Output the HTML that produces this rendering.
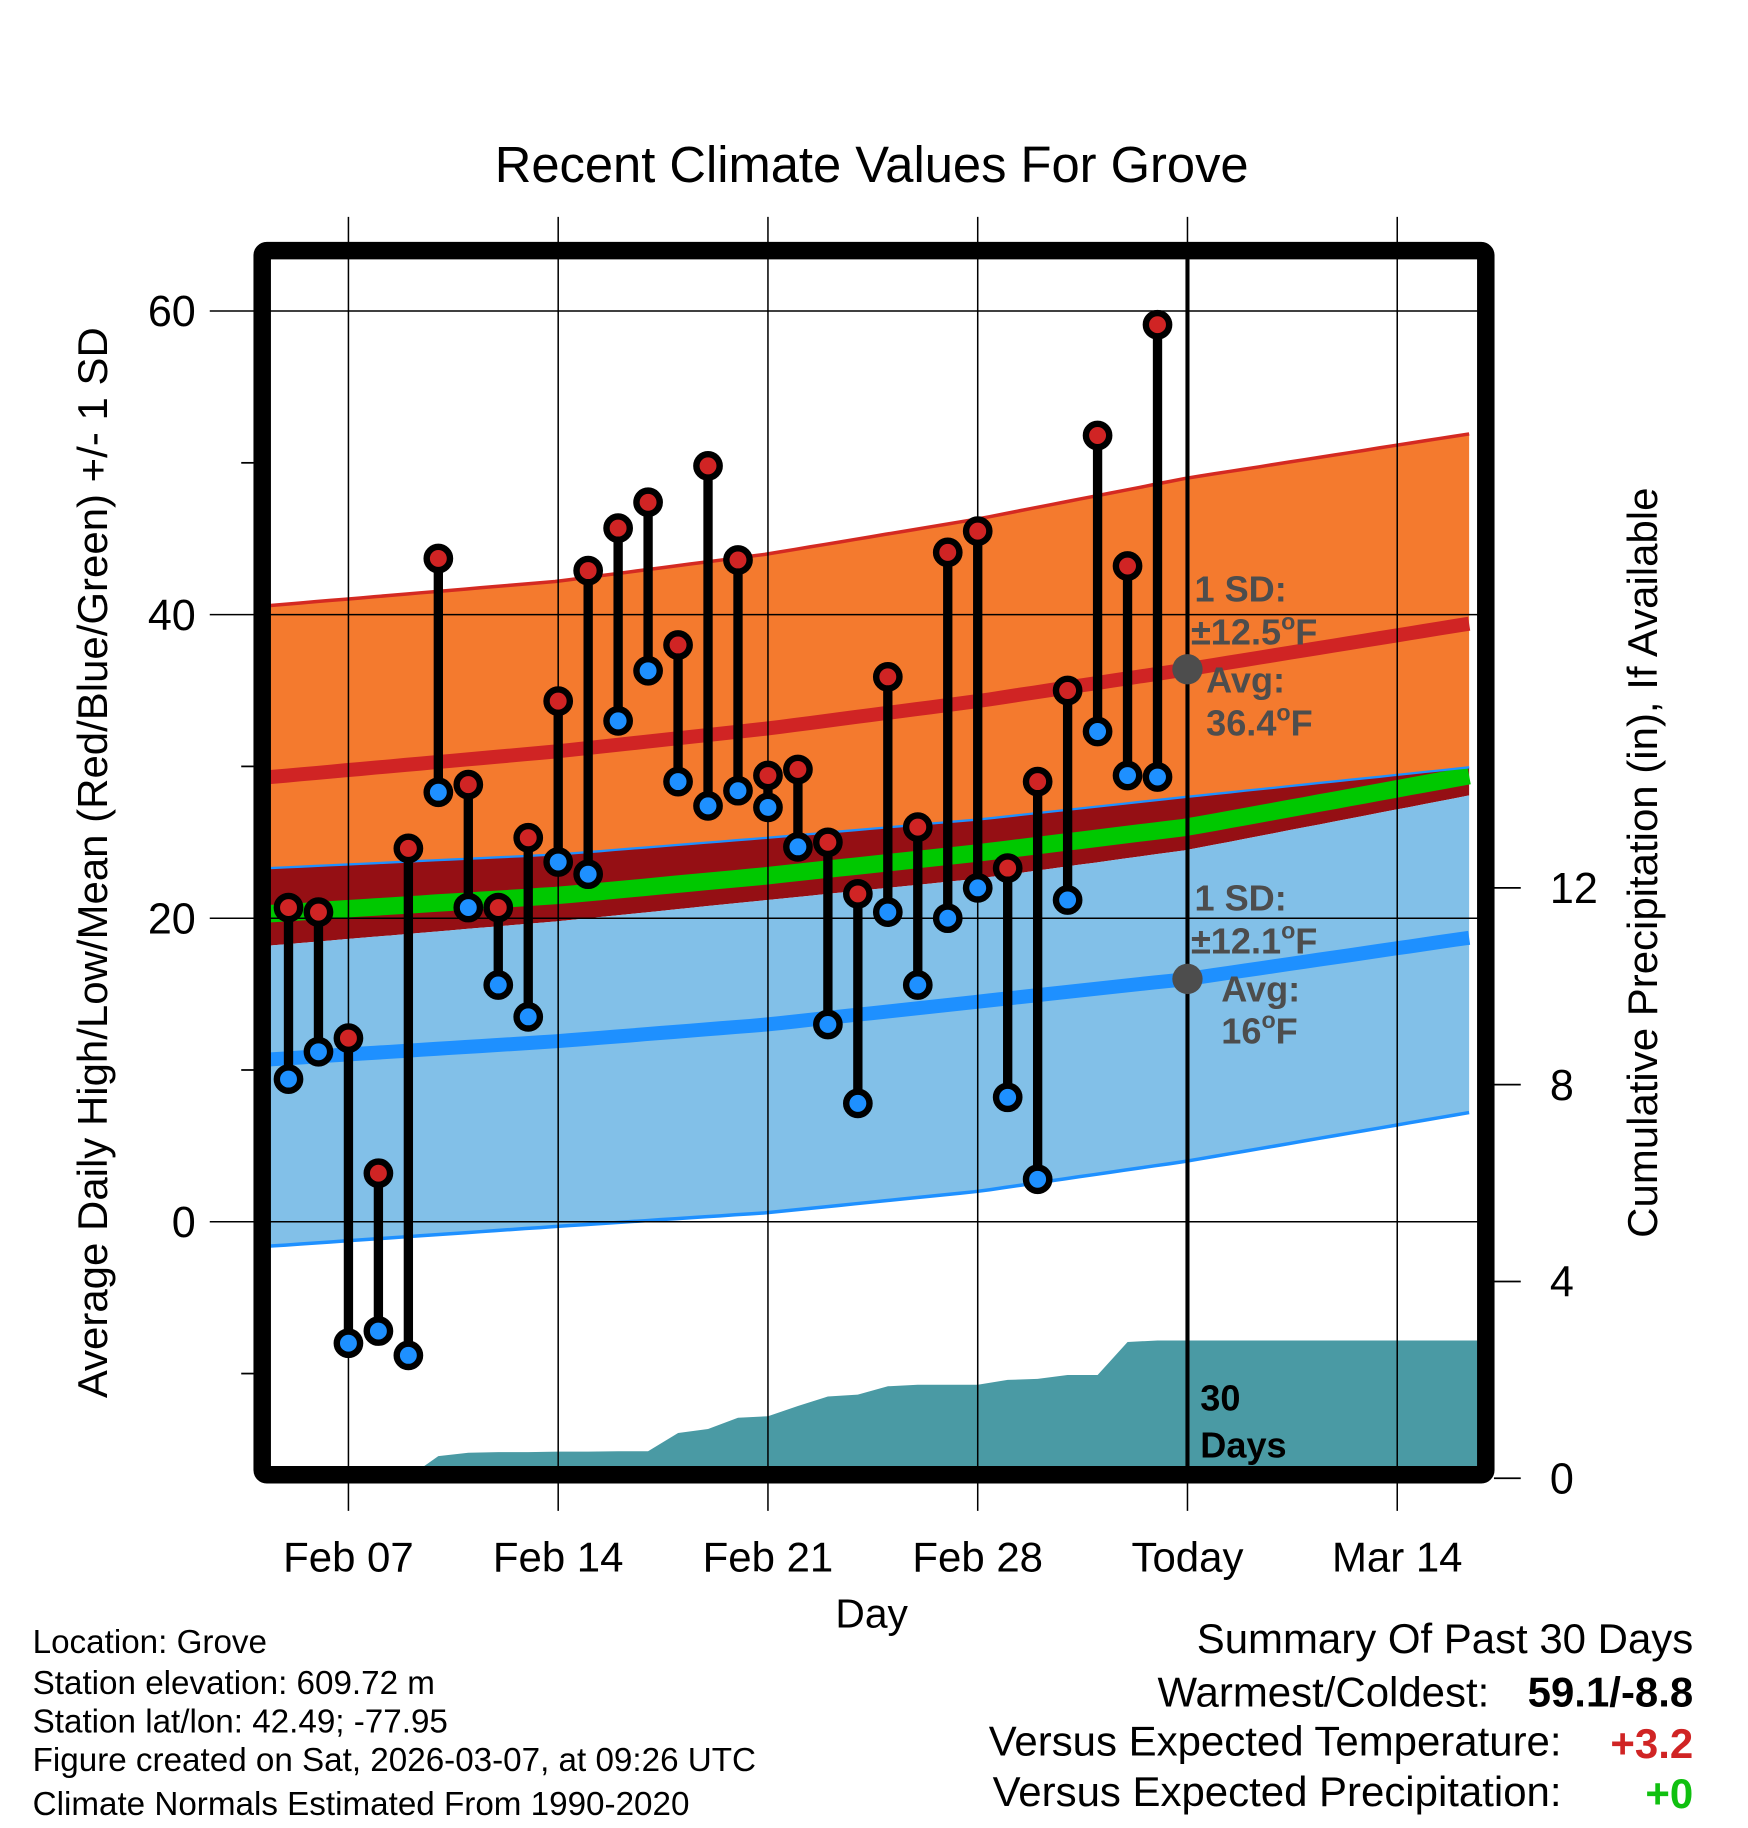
<!DOCTYPE html>
<html><head><meta charset="utf-8"><style>
html,body{margin:0;padding:0;background:#fff}
svg{display:block}
text{font-family:"Liberation Sans",sans-serif}
</style></head><body>
<svg id="chart" width="1748" height="1828" viewBox="0 0 1500 1568" preserveAspectRatio="none" xmlns="http://www.w3.org/2000/svg">
<defs><clipPath id="plotclip"><rect x="232" y="222" width="1036" height="1036"/></clipPath></defs>
<text x="748" y="156" font-size="43.5" text-anchor="middle">Recent Climate Values For Grove</text>
<g id="bands" clip-path="url(#plotclip)"></g>
<g id="grid"></g>
<g id="marks" clip-path="url(#plotclip)"></g>
<g id="frame"></g>
<g id="labels"></g>
</svg>
<script>
// ---- data ----
const knotDays = [-2.6, 7, 14, 21, 28, 37.7];
const normHighTop = [40.6, 42.2, 44.0, 46.3, 49.0, 52.0];
const normHighAvg = [29.3, 31.0, 32.5, 34.3, 36.4, 39.5];
const normLowTop = [23.3, 24.2, 25.3, 26.5, 28.0, 30.0];
const normMean = [20.3, 21.5, 22.8, 24.3, 26.0, 29.5];
const normLightTop = [18.2, 19.8, 21.2, 22.6, 24.5, 28.2];
const normLowAvg = [10.7, 11.9, 13.0, 14.5, 16.0, 18.8];
const normLowBottom = [-1.6, -0.3, 0.6, 2.0, 4.0, 7.3];
const todayDay = 28;
const obsDays = [-2,-1,0,1,2,3,4,5,6,7,8,9,10,11,12,13,14,15,16,17,18,19,20,21,22,23,24,25,26,27];
const highs = [20.7,20.4,12.1,3.2,24.6,43.7,28.8,20.7,25.3,34.3,42.9,45.7,47.4,38.0,49.8,43.6,29.4,29.8,25.0,21.6,35.9,26.0,44.1,45.5,23.3,29.0,35.0,51.8,43.2,59.1];
const lows = [9.4,11.2,-8.0,-7.2,-8.8,28.3,20.7,15.6,13.5,23.7,22.9,33.0,36.3,29.0,27.4,28.4,27.3,24.7,13.0,7.8,20.4,15.6,20.0,22.0,8.2,2.8,21.2,32.3,29.4,29.3];
const precip = [0,0,0,0,0.02,0.45,0.52,0.53,0.53,0.54,0.54,0.55,0.55,0.92,1.0,1.23,1.26,1.47,1.66,1.7,1.87,1.9,1.9,1.9,2.0,2.02,2.1,2.1,2.77,2.8];
const xTickDays = [0,7,14,21,28,35];
const xTickLabels = ["Feb 07","Feb 14","Feb 21","Feb 28","Today","Mar 14"];
const yTicks = [0,20,40,60];
const yMinor = [-10,10,30,50];
const pTicks = [0,4,8,12];
// ---- scales ----
const X = d => 299 + d*180/7;
const Y = t => 1048 - t*13.02;
const P = p => 1268 - p*42.2;
const NS = "http://www.w3.org/2000/svg";
function mk(tag, attrs, parent){const e=document.createElementNS(NS,tag);for(const k in attrs)e.setAttribute(k,attrs[k]);parent.appendChild(e);return e;}
function interp(arr, d){for(let i=0;i<knotDays.length-1;i++){if(d<=knotDays[i+1]){const f=(d-knotDays[i])/(knotDays[i+1]-knotDays[i]);return arr[i]+f*(arr[i+1]-arr[i]);}}return arr[arr.length-1];}
function curvePts(arr){const p=[];for(let d=-2.6;d<=37.75;d+=0.5)p.push([X(d),Y(interp(arr,d))]);return p;}
function bandPath(top,bot){const a=curvePts(top),b=curvePts(bot).reverse();return "M"+a.concat(b).map(q=>q[0].toFixed(1)+","+q[1].toFixed(1)).join("L")+"Z";}
function linePath(arr){return "M"+curvePts(arr).map(q=>q[0].toFixed(1)+","+q[1].toFixed(1)).join("L");}
const bands=document.getElementById('bands'),grid=document.getElementById('grid'),marks=document.getElementById('marks'),frame=document.getElementById('frame'),labels=document.getElementById('labels');
let e;
e=mk('path',{d:bandPath(normHighTop,normLowTop),fill:'#f47a2e'},bands);


e=mk('path',{d:linePath(normHighTop),fill:'none',stroke:'#d42a22','stroke-width':3},bands);


e=mk('path',{d:bandPath(normLowTop,normLightTop),fill:'#950f14'},bands);


e=mk('path',{d:linePath(normMean),fill:'none',stroke:'#00c800','stroke-width':15},bands);


e=mk('path',{d:bandPath(normLightTop,normLowBottom),fill:'#82c0e8'},bands);


e=mk('path',{d:linePath(normLowTop),fill:'none',stroke:'#1e90ff','stroke-width':2},bands);


e=mk('path',{d:linePath(normLowBottom),fill:'none',stroke:'#1e90ff','stroke-width':3},bands);


e=mk('path',{d:linePath(normHighAvg),fill:'none',stroke:'#d02424','stroke-width':12},bands);


e=mk('path',{d:linePath(normLowAvg),fill:'none',stroke:'#1e90ff','stroke-width':12},bands);


// precip area
{let d="M"+X(obsDays[0])+","+P(0);obsDays.forEach((dd,i)=>{d+="L"+X(dd).toFixed(1)+","+P(precip[i]).toFixed(1);});d+="L1270,"+P(precip[precip.length-1]).toFixed(1)+"L1270,"+P(0)+"Z";
e=mk('path',{d:d,fill:'#4a9aa4'},bands);

}
// grid
xTickDays.forEach((d,i)=>{
 e=mk('line',{x1:X(d),x2:X(d),y1:186,y2:1296,stroke:'#000','stroke-width':1.3},grid);
 
 
 e=mk('text',{x:X(d),y:1348,'font-size':36,'text-anchor':'middle'},labels);
 e.textContent=xTickLabels[i];
 
 
});
yTicks.forEach(t=>{
 e=mk('line',{x1:180,x2:1268,y1:Y(t),y2:Y(t),stroke:'#000','stroke-width':1.3},grid);
 
 
 e=mk('text',{x:168,y:Y(t)+13,'font-size':37,'text-anchor':'end'},labels);
 e.textContent=t;
 
 
});
yMinor.forEach(t=>{
 e=mk('line',{x1:207,x2:220,y1:Y(t),y2:Y(t),stroke:'#000','stroke-width':1.5},grid);
 
 
});
pTicks.forEach(p=>{
 e=mk('line',{x1:1282,x2:1305,y1:P(p),y2:P(p),stroke:'#000','stroke-width':1.5},grid);
 
 
 e=mk('text',{x:1330,y:P(p)+13,'font-size':37},labels);
 e.textContent=p;
 
 
});
// today line
e=mk('line',{x1:X(todayDay),x2:X(todayDay),y1:222,y2:1258,stroke:'#000','stroke-width':3.5},marks);


// stems & markers
obsDays.forEach((d,i)=>{
 e=mk('line',{x1:X(d),x2:X(d),y1:Y(highs[i]),y2:Y(lows[i]),stroke:'#000','stroke-width':8},marks);
 
 
});
obsDays.forEach((d,i)=>{
 e=mk('circle',{cx:X(d),cy:Y(highs[i]),r:10,fill:'#d02424',stroke:'#000','stroke-width':5.5},marks);
 
 
 e=mk('circle',{cx:X(d),cy:Y(lows[i]),r:10,fill:'#1e90ff',stroke:'#000','stroke-width':5.5},marks);
 
 
});
e=mk('circle',{cx:X(todayDay),cy:Y(interp(normHighAvg,todayDay)),r:13,fill:'#4d4d4d'},marks);


e=mk('circle',{cx:X(todayDay),cy:Y(interp(normLowAvg,todayDay)),r:13,fill:'#4d4d4d'},marks);


// frame
e=mk('rect',{x:225,y:215,width:1050,height:1050,fill:'none',stroke:'#000','stroke-width':15,rx:4},frame);


</script>
<svg style="position:absolute;left:0;top:0" width="1748" height="1828" viewBox="0 0 1500 1568" preserveAspectRatio="none" xmlns="http://www.w3.org/2000/svg">
<g font-family="Liberation Sans, sans-serif" font-weight="bold" font-size="31" fill="#4d4d4d">
<text x="1025" y="516">1 SD:</text>
<text x="1022" y="553">±12.5<tspan dy="-13" font-size="20">o</tspan><tspan dy="13">F</tspan></text>
<text x="1035" y="594">Avg:</text>
<text x="1035" y="631">36.4<tspan dy="-13" font-size="20">o</tspan><tspan dy="13">F</tspan></text>
<text x="1025" y="781">1 SD:</text>
<text x="1022" y="818">±12.1<tspan dy="-13" font-size="20">o</tspan><tspan dy="13">F</tspan></text>
<text x="1048" y="859">Avg:</text>
<text x="1048" y="895">16<tspan dy="-13" font-size="20">o</tspan><tspan dy="13">F</tspan></text>
<text x="1030" y="1210" fill="#000">30</text>
<text x="1030" y="1250" fill="#000">Days</text>
</g>
<g font-family="Liberation Sans, sans-serif">
<text x="748" y="1396" font-size="35" text-anchor="middle">Day</text>
<text transform="translate(92,740) rotate(-90)" font-size="36" text-anchor="middle">Average Daily High/Low/Mean (Red/Blue/Green) +/- 1 SD</text>
<text transform="translate(1422,740) rotate(-90)" font-size="36" text-anchor="middle">Cumulative Precipitation (in), If Available</text>
<g font-size="28.5">
<text x="28" y="1418">Location: Grove</text>
<text x="28" y="1453">Station elevation: 609.72 m</text>
<text x="28" y="1486">Station lat/lon: 42.49; -77.95</text>
<text x="28" y="1519">Figure created on Sat, 2026-03-07, at 09:26 UTC</text>
<text x="28" y="1557">Climate Normals Estimated From 1990-2020</text>
</g>
<g font-size="36">
<text x="1453" y="1418" text-anchor="end">Summary Of Past 30 Days</text>
<text x="1278" y="1464" text-anchor="end">Warmest/Coldest:</text>
<text x="1453" y="1464" text-anchor="end" font-weight="bold">59.1/-8.8</text>
<text x="1340" y="1506" text-anchor="end">Versus Expected Temperature:</text>
<text x="1453" y="1508" text-anchor="end" font-weight="bold" fill="#d02424">+3.2</text>
<text x="1340" y="1549" text-anchor="end">Versus Expected Precipitation:</text>
<text x="1453" y="1551" text-anchor="end" font-weight="bold" fill="#10c010">+0</text>
</g>
</g>
</svg>
</body></html>
